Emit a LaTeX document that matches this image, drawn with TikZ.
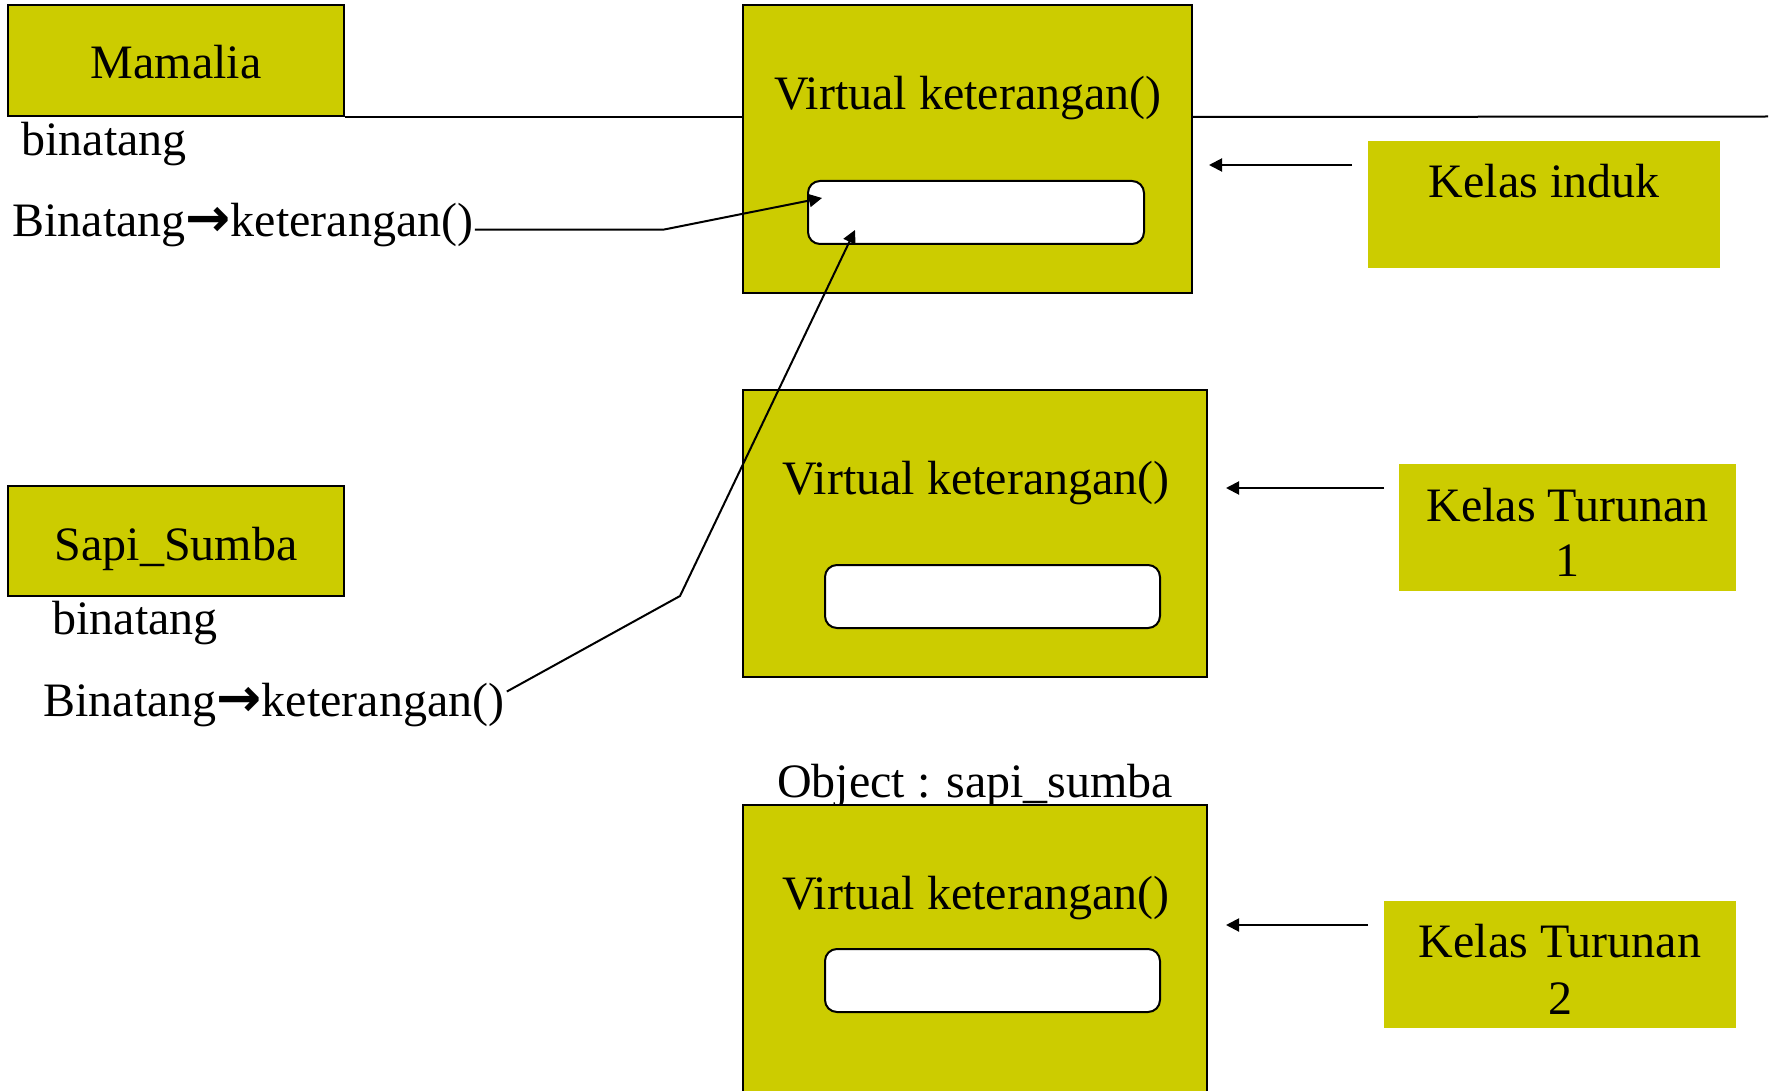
\documentclass[tikz,border=0pt]{standalone}
\usepackage{fontspec}
\setmainfont{Liberation Serif}
\newfontfamily\arrowfont{DejaVu Sans}
\usetikzlibrary{arrows.meta}
\definecolor{ybox}{HTML}{CCCC00}
\newcommand{\bigarrow}{{\arrowfont\bfseries\fontsize{27}{28}\selectfont →}}
\begin{document}
\begin{tikzpicture}[x=0.5pt,y=-0.5pt,
  font=\fontsize{24}{28}\selectfont,
  box/.style={draw=black, line width=1pt, fill=ybox, rectangle, inner sep=0pt},
  tag/.style={fill=ybox, rectangle, inner sep=0pt},
  slot/.style={draw=black, line width=1pt, fill=white, rectangle, rounded corners=6pt, inner sep=0pt, minimum width=168pt, minimum height=31.5pt},
  txt/.style={inner sep=0pt, anchor=base},
  txtw/.style={inner sep=0pt, anchor=base west},
  con/.style={line width=1pt, -{Triangle[length=6.5pt,width=6.5pt]}},
  plain/.style={line width=1pt}]
\useasboundingbox (0,0) rectangle (1771,1091);

% class boxes on the left
\node[box, minimum width=168pt, minimum height=55.5pt] (mam) at (176,60.5) {};
\node[txt] (mamt) at (176,79) {Mamalia};
\node[box, minimum width=168pt, minimum height=55pt] (sapi) at (176,541) {};
\node[txt] (sapit) at (176,560) {Sapi\_Sumba};

% big object boxes
\node[box, minimum width=224.5pt, minimum height=144pt] (b1) at (967.5,149) {};
\node[txt] (vk1) at (968,110) {Virtual keterangan()};
\node[slot] (in1) at (976,212.5) {};

\node[box, minimum width=232pt, minimum height=143.5pt] (b2) at (975,533.5) {};
\node[txt] (vk2) at (976,494) {Virtual keterangan()};
\node[slot, minimum width=167.5pt] (in2) at (992.5,596.5) {};

\node[txt] (obj) at (975,797) {Object : sapi\_sumba};
\node[box, minimum width=232pt, minimum height=147.5pt] (b3) at (975,952.5) {};
\node[txt] (vk3) at (976,909) {Virtual keterangan()};
\node[slot, minimum width=167.5pt] (in3) at (992.5,980.5) {};

% right tags
\node[tag, minimum width=176pt, minimum height=63.5pt] (ki) at (1544,204.5) {};
\node[txt] (kit) at (1544,198) {Kelas induk};
\node[tag, minimum width=168.5pt, minimum height=63.5pt] (kt1) at (1567.5,527.5) {};
\node[txt] (kt1a) at (1567.5,521) {Kelas Turunan};
\node[txt] (kt1b) at (1567.5,576) {1};
\node[tag, minimum width=176pt, minimum height=63.5pt] (kt2) at (1560,964.5) {};
\node[txt] (kt2a) at (1560,957) {Kelas Turunan};
\node[txt] (kt2b) at (1560,1014) {2};

% left texts
\node[txtw] (bin1) at (21,156) {binatang};
\node[txtw] (bk1) at (12,236) {Binatang\bigarrow keterangan()};
\node[txtw] (bin2) at (52,634) {binatang};
\node[txtw] (bk2) at (43,716) {Binatang\bigarrow keterangan()};

% horizontal rule through first row
\coordinate (rend) at (1768,116.5);
\draw[plain] (mam.south east) -- (mam.south east -| b1.west);
\draw[plain] (mam.south east -| b1.east) -- (rend);

% pointer connectors
\coordinate (s1) at ([shift={(1,5)}]bk1.east);
\coordinate (c1) at (664,228);
\coordinate (t1) at (822,198);
\draw[con] (s1) -- (s1 -| c1) -- (t1);
\coordinate (c2) at (680,596);
\coordinate (t2) at (855,230);
\draw[con] ([shift={(2,-13)}]bk2.east) -- (c2) -- (t2);

% tag arrows
\coordinate (a1s) at (1352,165);
\coordinate (a1e) at (1209,165);
\draw[con] (a1s) -- (a1e);
\coordinate (a2s) at (1384,488);
\coordinate (a2e) at (1226,488);
\draw[con] (a2s) -- (a2e);
\coordinate (a3s) at (1368,925);
\coordinate (a3e) at (1226,925);
\draw[con] (a3s) -- (a3e);
\end{tikzpicture}
\end{document}
